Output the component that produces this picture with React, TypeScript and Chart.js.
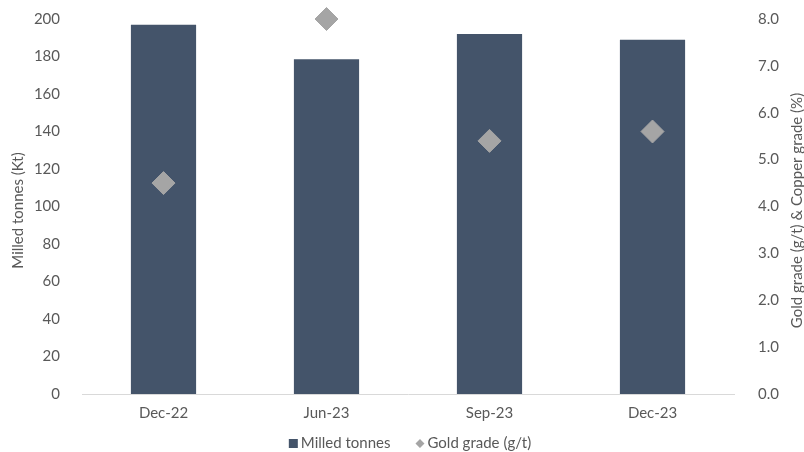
import React, { useEffect, useRef } from "react";
import { Chart, registerables } from "chart.js";

Chart.register(...registerables);

const categories = ["Dec-22", "Jun-23", "Sep-23", "Dec-23"];
const milledTonnes = [197, 178.5, 192, 189];
const goldGrade = [4.5, 8.0, 5.4, 5.6];
const leftTicks = [0, 20, 40, 60, 80, 100, 120, 140, 160, 180, 200];
const rightTicks = [0, 1, 2, 3, 4, 5, 6, 7, 8];
const legendLabels = ["Milled tonnes", "Gold grade (g/t)"];

const FONT = "Lato, 'Open Sans', sans-serif";
const TXT = "#595959";
const BAR = "#44546A";
const DIAMOND = "#A5A5A5";

const titlePlugin = {
  id: "axisTitlesLegend",
  afterDraw(chart: any) {
    const { ctx, chartArea } = chart;
    const cy = (chartArea.top + chartArea.bottom) / 2 + 4;
    ctx.save();
    ctx.fillStyle = TXT;
    ctx.font = `15px ${FONT}`;
    ctx.textAlign = "center";
    ctx.textBaseline = "middle";
    ctx.translate(18, cy);
    ctx.rotate(-Math.PI / 2);
    ctx.fillText("Milled tonnes (Kt)", 0, 0);
    ctx.restore();
    ctx.save();
    ctx.fillStyle = TXT;
    ctx.font = `15px ${FONT}`;
    ctx.textAlign = "center";
    ctx.textBaseline = "middle";
    ctx.translate(797, cy);
    ctx.rotate(-Math.PI / 2);
    ctx.fillText("Gold grade (g/t) & Copper grade (%)", 0, 0);
    ctx.restore();

    // legend
    const ly = 443.5;
    ctx.save();
    ctx.font = `15px ${FONT}`;
    ctx.textBaseline = "middle";
    ctx.textAlign = "left";
    const w0 = ctx.measureText(legendLabels[0]).width;
    const w1 = ctx.measureText(legendLabels[1]).width;
    const total = 9 + 3 + w0 + 25 + 9 + 3 + w1;
    let x = 410 - total / 2;
    ctx.fillStyle = BAR;
    ctx.fillRect(x, ly - 4.5, 9, 9);
    ctx.fillStyle = TXT;
    ctx.fillText(legendLabels[0], x + 12, ly);
    x += 12 + w0 + 25;
    ctx.fillStyle = DIAMOND;
    ctx.beginPath();
    ctx.moveTo(x + 4.5, ly - 4.5);
    ctx.lineTo(x + 9, ly);
    ctx.lineTo(x + 4.5, ly + 4.5);
    ctx.lineTo(x, ly);
    ctx.closePath();
    ctx.fill();
    ctx.fillStyle = TXT;
    ctx.fillText(legendLabels[1], x + 12, ly);
    ctx.restore();
  },
};

export default function App() {
  const ref = useRef<HTMLCanvasElement>(null);
  useEffect(() => {
    if (!ref.current) return;
    const noPad = (s: any) => {
      s.paddingTop = 0;
      s.paddingBottom = 0;
    };
    const chart = new Chart(ref.current, {
      type: "bar",
      data: {
        labels: categories,
        datasets: [
          {
            type: "line",
            label: legendLabels[1],
            data: goldGrade,
            yAxisID: "y1",
            showLine: false,
            clip: false,
            pointStyle: "rectRot",
            pointRadius: 11.5,
            pointHoverRadius: 11.5,
            pointBackgroundColor: DIAMOND,
            pointBorderColor: DIAMOND,
            borderColor: DIAMOND,
            backgroundColor: DIAMOND,
            pointBorderWidth: 1,
            order: 0,
          } as any,
          {
            type: "bar",
            label: legendLabels[0],
            data: milledTonnes,
            yAxisID: "y",
            backgroundColor: BAR,
            borderWidth: 0,
            categoryPercentage: 1,
            barPercentage: 0.4,
            order: 1,
          },
        ],
      },
      options: {
        responsive: false,
        animation: false,
        layout: { padding: { top: 19, right: 0, left: 0, bottom: 28 } },
        plugins: {
          tooltip: { enabled: false },
          legend: { display: false },
        },
        scales: {
          x: {
            type: "category",
            grid: { display: false },
            border: { display: true, color: "#D9D9D9", width: 1 },
            ticks: { color: TXT, font: { family: FONT, size: 15 }, padding: 2 },
          },
          y: {
            position: "left",
            min: 0,
            max: 200,
            afterBuildTicks: (s: any) => {
              s.ticks = leftTicks.map((v) => ({ value: v }));
            },
            grid: { display: false },
            border: { display: false },
            ticks: { color: TXT, font: { family: FONT, size: 15 }, padding: 14 },
            afterFit: (s: any) => {
              s.width = 82;
              noPad(s);
            },
          },
          y1: {
            position: "right",
            min: 0,
            max: 8,
            afterBuildTicks: (s: any) => {
              s.ticks = rightTicks.map((v) => ({ value: v }));
            },
            grid: { display: false },
            border: { display: false },
            ticks: {
              color: TXT,
              font: { family: FONT, size: 15 },
              padding: 16,
              callback: (v: any) => Number(v).toFixed(1),
            },
            afterFit: (s: any) => {
              s.width = 70;
              noPad(s);
            },
          },
        },
      },
      plugins: [titlePlugin],
    });
    return () => chart.destroy();
  }, []);
  return (
    <div style={{ position: "absolute", left: 0, top: 0, width: 804, height: 452, background: "#fff" }}>
      <canvas ref={ref} width={804} height={452} />
    </div>
  );
}
